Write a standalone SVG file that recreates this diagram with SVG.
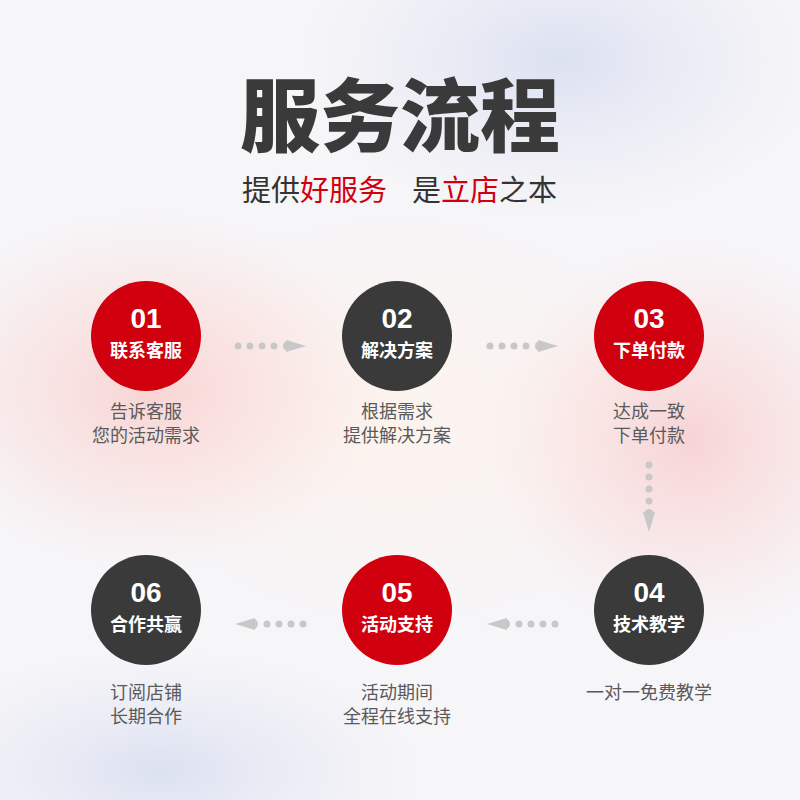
<svg xmlns="http://www.w3.org/2000/svg" width="800" height="800" viewBox="0 0 800 800">
<defs>
<radialGradient id="bpL" cx="0.5" cy="0.5" r="0.5"><stop offset="0" stop-color="#f9cccb" stop-opacity="0.8"/><stop offset="0.6" stop-color="#fbdbd8" stop-opacity="0.45"/><stop offset="1" stop-color="#fbe3e0" stop-opacity="0"/></radialGradient>
<radialGradient id="bpR" cx="0.5" cy="0.5" r="0.5"><stop offset="0" stop-color="#f8c8c9" stop-opacity="0.75"/><stop offset="0.6" stop-color="#fbd8d6" stop-opacity="0.4"/><stop offset="1" stop-color="#fbe3e0" stop-opacity="0"/></radialGradient>
<radialGradient id="bb" cx="0.5" cy="0.5" r="0.5"><stop offset="0" stop-color="#d9dff0" stop-opacity="0.9"/><stop offset="1" stop-color="#e3e7f3" stop-opacity="0"/></radialGradient>
<radialGradient id="bw" cx="0.5" cy="0.5" r="0.5"><stop offset="0" stop-color="#fdf3ec" stop-opacity="0.9"/><stop offset="1" stop-color="#fdf3ec" stop-opacity="0"/></radialGradient>
<style>
.num{font-family:"Liberation Sans",Arial,sans-serif;font-weight:700;font-size:28px;fill:#fff;text-anchor:middle}
.lbl{font-family:"Noto Sans CJK SC",sans-serif;font-weight:700;font-size:18px;fill:#fff;text-anchor:middle}
.desc{font-family:"Noto Sans CJK SC",sans-serif;font-size:18px;fill:#5a5a5a;text-anchor:middle}
.sub{font-family:"Noto Sans CJK SC",sans-serif;font-size:29px;fill:#333}
.hl{fill:#d0000f}
.red{fill:#d0000f}
.dark{fill:#3a3a3a}
.dot{fill:#c8c8c8}
</style>
</defs>
<rect width="800" height="800" fill="#f6f5f8"/>
<ellipse cx="560" cy="60" rx="260" ry="160" fill="url(#bb)"/>
<ellipse cx="160" cy="770" rx="260" ry="120" fill="url(#bb)"/>
<ellipse cx="400" cy="420" rx="300" ry="220" fill="url(#bw)"/>
<ellipse cx="150" cy="390" rx="240" ry="180" fill="url(#bpL)"/>
<ellipse cx="690" cy="440" rx="210" ry="200" fill="url(#bpR)"/>
<g id="title">
<text x="400" y="145" text-anchor="middle" font-family="Noto Sans CJK SC,sans-serif" font-weight="900" font-size="80" fill="#3a3a3a">服务流程</text>
<text class="sub" x="242" y="201">提供<tspan class="hl">好服务</tspan></text>
<text class="sub" x="412" y="201">是<tspan class="hl">立店</tspan>之本</text>
</g>
<g id="connectors">
<g id="c1"><circle class="dot" cx="238" cy="346" r="3.5"/><circle class="dot" cx="250" cy="346" r="3.5"/><circle class="dot" cx="262" cy="346" r="3.5"/><circle class="dot" cx="274" cy="346" r="3.5"/><circle class="dot" cx="288" cy="346" r="5"/><path class="dot" d="M286 340 L306 346 L286 352 Z"/></g>
<g id="c2"><circle class="dot" cx="490" cy="346" r="3.5"/><circle class="dot" cx="502" cy="346" r="3.5"/><circle class="dot" cx="514" cy="346" r="3.5"/><circle class="dot" cx="526" cy="346" r="3.5"/><circle class="dot" cx="540" cy="346" r="5"/><path class="dot" d="M538 340 L558 346 L538 352 Z"/></g>
<g id="c3"><circle class="dot" cx="649" cy="465" r="3.5"/><circle class="dot" cx="649" cy="477" r="3.5"/><circle class="dot" cx="649" cy="489" r="3.5"/><circle class="dot" cx="649" cy="501" r="3.5"/><circle class="dot" cx="649" cy="514" r="5"/><path class="dot" d="M643 512 L649 532 L655 512 Z"/></g>
<g id="c4"><circle class="dot" cx="555" cy="624" r="3.5"/><circle class="dot" cx="543" cy="624" r="3.5"/><circle class="dot" cx="531" cy="624" r="3.5"/><circle class="dot" cx="519" cy="624" r="3.5"/><circle class="dot" cx="505" cy="624" r="5"/><path class="dot" d="M507 618 L487 624 L507 630 Z"/></g>
<g id="c5"><circle class="dot" cx="303" cy="624" r="3.5"/><circle class="dot" cx="291" cy="624" r="3.5"/><circle class="dot" cx="279" cy="624" r="3.5"/><circle class="dot" cx="267" cy="624" r="3.5"/><circle class="dot" cx="253" cy="624" r="5"/><path class="dot" d="M255 618 L235 624 L255 630 Z"/></g>
</g>
<g id="n1"><circle class="red" cx="146" cy="336" r="55"/><text class="num" x="146" y="328">01</text><text class="lbl" x="146" y="357">联系客服</text><text class="desc" x="146" y="418">告诉客服</text><text class="desc" x="146" y="442">您的活动需求</text></g>
<g id="n2"><circle class="dark" cx="397" cy="336" r="55"/><text class="num" x="397" y="328">02</text><text class="lbl" x="397" y="357">解决方案</text><text class="desc" x="397" y="418">根据需求</text><text class="desc" x="397" y="442">提供解决方案</text></g>
<g id="n3"><circle class="red" cx="649" cy="336" r="55"/><text class="num" x="649" y="328">03</text><text class="lbl" x="649" y="357">下单付款</text><text class="desc" x="649" y="418">达成一致</text><text class="desc" x="649" y="442">下单付款</text></g>
<g id="n4"><circle class="dark" cx="649" cy="610" r="55"/><text class="num" x="649" y="602">04</text><text class="lbl" x="649" y="631">技术教学</text><text class="desc" x="649" y="699">一对一免费教学</text></g>
<g id="n5"><circle class="red" cx="397" cy="610" r="55"/><text class="num" x="397" y="602">05</text><text class="lbl" x="397" y="631">活动支持</text><text class="desc" x="397" y="699">活动期间</text><text class="desc" x="397" y="723">全程在线支持</text></g>
<g id="n6"><circle class="dark" cx="146" cy="610" r="55"/><text class="num" x="146" y="602">06</text><text class="lbl" x="146" y="631">合作共赢</text><text class="desc" x="146" y="699">订阅店铺</text><text class="desc" x="146" y="723">长期合作</text></g>
</svg>
